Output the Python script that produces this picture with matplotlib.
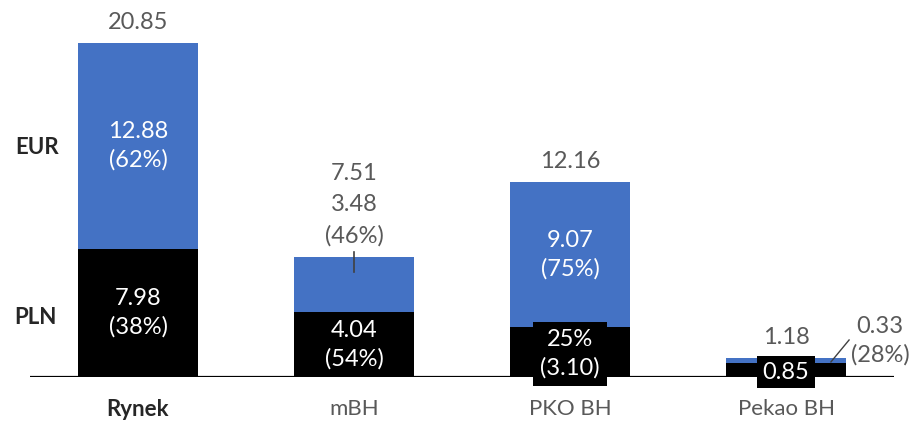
import numpy as np
from matplotlib import pyplot as plt

# data
banks = ["Rynek", "mBH", "PKO BH", "Pekao BH"]
pln = [7.98, 4.04, 3.10, 0.85]
eur = [12.88, 3.48, 9.07, 0.33]
totals = [20.85, 7.51, 12.16, 1.18]
eur_share = ["62%", "46%", "75%", "28%"]
pln_share = ["38%", "54%", "25%", "72%"]

BLUE = "#4472C4"
GREY = "#595959"
DARK = "#262626"

plt.rcParams['font.family'] = ['Lato', 'DejaVu Sans']

fig = plt.figure(figsize=(9.15, 4.25), dpi=100)
ax = fig.add_axes([30/915, 48/425, 864/915, 377/425])

x = np.arange(len(banks))
w = 0.556
ax.bar(x, pln, w, color="black", zorder=2)
ax.bar(x, eur, w, bottom=pln, color=BLUE, zorder=2)

ax.set_xlim(-0.5, 3.5)
ax.set_ylim(0, 23.53)
ax.axhline(0, color="black", lw=1.6, zorder=3)
for s in ax.spines.values():
    s.set_visible(False)
ax.set_yticks([])
ax.set_xticks(x)
ax.set_xticklabels(banks, fontsize=16, color=GREY)
ax.tick_params(axis="x", length=0, pad=16)
ax.get_xticklabels()[0].set_fontweight("bold")
ax.get_xticklabels()[0].set_color(DARK)

fs = 17
ls = 1.4

# totals above bars
for i, t in enumerate(totals):
    if i == 1:
        continue
    ax.text(x[i], t + 1.27, f"{t:.2f}", ha="center", va="center",
            fontsize=fs, color=GREY)

# Rynek
ax.text(x[0], pln[0] + eur[0] / 2, f"{eur[0]:.2f}\n({eur_share[0]})",
        ha="center", va="center", fontsize=fs, color="white", linespacing=ls)
ax.text(x[0], pln[0] / 2, f"{pln[0]:.2f}\n({pln_share[0]})",
        ha="center", va="center", fontsize=fs, color="white", linespacing=ls)

# mBH
ax.text(x[1], totals[1] + 5.22, f"{totals[1]:.2f}", ha="center", va="center",
        fontsize=fs, color=GREY)
ax.text(x[1], totals[1] + 2.26, f"{eur[1]:.2f}\n({eur_share[1]})",
        ha="center", va="center", fontsize=fs, color=GREY, linespacing=1.55)
ax.plot([x[1], x[1]], [7.8, 6.55], color="#404040", lw=1.2, zorder=4)
ax.text(x[1], pln[1] / 2, f"{pln[1]:.2f}\n({pln_share[1]})",
        ha="center", va="center", fontsize=fs, color="white", linespacing=ls)

# PKO BH
ax.text(x[2], pln[2] + eur[2] / 2, f"{eur[2]:.2f}\n({eur_share[2]})",
        ha="center", va="center", fontsize=fs, color="white", linespacing=ls)
ax.text(x[2], 1.42, f"{pln_share[2]}\n({pln[2]:.2f})",
        ha="center", va="center", fontsize=fs, color="white", linespacing=ls,
        zorder=5, clip_on=False,
        bbox=dict(boxstyle="square,pad=0.3", fc="black", ec="none"))

# Pekao BH
ax.text(x[3], 0.31, f"{pln[3]:.2f}", ha="center", va="center",
        fontsize=fs, color="white", zorder=5, clip_on=False,
        bbox=dict(boxstyle="square,pad=0.25", fc="black", ec="none"))
ax.plot([3.208, 3.292], [0.94, 2.31], color="#404040", lw=1.0, zorder=4)
ax.text(3.435, 2.25, f"{eur[3]:.2f}\n({eur_share[3]})", ha="center",
        va="center", fontsize=fs, color=GREY, linespacing=ls, clip_on=False)

# side labels
fig.text(37/915, 1 - 148/425, "EUR", ha="center", va="center",
         fontsize=16, color=DARK, fontweight="bold")
fig.text(35/915, 1 - 318/425, "PLN", ha="center", va="center",
         fontsize=16, color=DARK, fontweight="bold")

fig.savefig("out.png", dpi=100)
